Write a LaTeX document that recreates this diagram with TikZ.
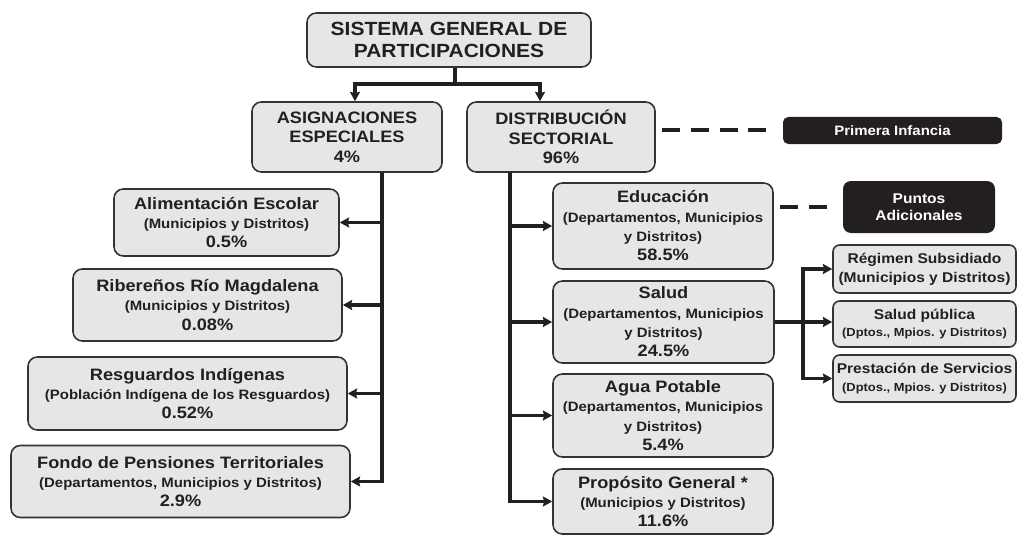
\documentclass[tikz,border=0pt]{standalone}
\usepackage{fontspec}
\setmainfont{Liberation Sans}[FakeStretch=1.1]
\usetikzlibrary{arrows.meta}

\definecolor{boxgray}{HTML}{E6E6E8}
\definecolor{linegray}{HTML}{333333}
\definecolor{inkblack}{HTML}{231F20}

\newcommand{\boxhead}{\fontsize{12.4}{14.5}\selectfont}
\newcommand{\boxsub}{\fontsize{10.2}{14.5}\selectfont}
\newcommand{\boxsmall}{\fontsize{8.8}{11}\selectfont}

\begin{document}
\begin{tikzpicture}[x=0.75pt,y=-0.75pt,>={Stealth[length=7pt,width=7.5pt,inset=1pt]},
  box/.style={draw=linegray, fill=boxgray, line width=1.2pt, rounded corners=7pt,
    align=center, inner sep=0pt, text=inkblack, font=\bfseries\boxhead},
  darkbox/.style={fill=inkblack, rounded corners=4pt, align=center,
    inner sep=0pt, text=white, font=\bfseries\boxsub},
  wh/.style 2 args={minimum width=#1*0.75pt, minimum height=#2*0.75pt},
  arr/.style={->, line width=2.3pt, draw=inkblack},
  link/.style={line width=2.3pt, draw=inkblack},
  dashlink/.style={line width=3pt, draw=inkblack, dash pattern=on 13.5pt off 8pt,
    shorten <=5pt, shorten >=5pt}]
\useasboundingbox (0,0) rectangle (1018,535);

% define the top of the tree
  \node[box, wh={284}{54}, font=\bfseries\fontsize{14.3}{17}\selectfont] (sgp) at (449,40)
{SISTEMA GENERAL DE\\PARTICIPACIONES};
  \node[box, wh={190}{70}] (asig) at (347,137)
{ASIGNACIONES\\ESPECIALES\\4\%};
  \node[box, wh={188}{70}] (dist) at (561,137)
{DISTRIBUCIÓN\\SECTORIAL\\96\%};

% define the special allocations
  \node[box, wh={225}{67}] (alim) at (226.5,222.5)
{Alimentación Escolar\\{\boxsub (Municipios y Distritos)}\\0.5\%};
  \node[box, wh={269}{72}] (rib) at (207.5,305)
{Ribereños Río Magdalena\\{\boxsub (Municipios y Distritos)}\\0.08\%};
  \node[box, wh={319}{73}] (resg) at (187.5,393.5)
{Resguardos Indígenas\\{\boxsub (Población Indígena de los Resguardos)}\\0.52\%};
  \node[box, wh={339}{72}] (fondo) at (180.5,481.5)
{Fondo de Pensiones Territoriales\\{\boxsub (Departamentos, Municipios y Distritos)}\\2.9\%};

% define the sectors
  \node[box, wh={220}{86}] (edu) at (663,226)
{Educación\\{\boxsub (Departamentos, Municipios}\\{\boxsub y Distritos)}\\58.5\%};
  \node[box, wh={221}{82}] (salud) at (663.5,322)
{Salud\\{\boxsub (Departamentos, Municipios}\\{\boxsub y Distritos)}\\24.5\%};
  \node[box, wh={220}{83}] (agua) at (663,415.5)
{Agua Potable\\{\boxsub (Departamentos, Municipios}\\{\boxsub y Distritos)}\\5.4\%};
  \node[box, wh={220}{65}] (prop) at (663,501.5)
{Propósito General *\\{\boxsub (Municipios y Distritos)}\\11.6\%};

% define the health uses
  \node[box, wh={183}{48}, rounded corners=5pt, font=\bfseries\fontsize{10.6}{14}\selectfont] (reg) at (924.5,269)
{Régimen Subsidiado\\(Municipios y Distritos)};
  \node[box, wh={183}{46}, rounded corners=5pt, font=\bfseries\fontsize{10.6}{13}\selectfont] (spub) at (924.5,324)
{Salud pública\\{\boxsmall (Dptos., Mpios. y Distritos)}};
  \node[box, wh={183}{47}, rounded corners=5pt, font=\bfseries\fontsize{10.6}{13}\selectfont] (prest) at (924.5,378.5)
{Prestación de Servicios\\{\boxsmall (Dptos., Mpios. y Distritos)}};

% define the black notes
  \node[darkbox, wh={219}{27}] (infancia) at (892.5,130.5) {Primera Infancia};
  \node[darkbox, wh={152}{52}, rounded corners=6pt, font=\bfseries\fontsize{10.6}{13}\selectfont] (puntos) at (919,207)
{Puntos\\Adicionales};

% define the links
  \coordinate (split) at (455,84);
  \coordinate (jl) at (355,84);
  \coordinate (jr) at (540,84);
  \coordinate (ltrunk) at (382,172);
  \coordinate (rtrunk) at (510,172);
  \coordinate (sjoin) at (803,322);

  \draw[link] (split |- sgp.south) -- (split);
  \draw[arr] (split) -| (jl |- asig.north);
  \draw[arr] (split) -| (jr |- dist.north);

  \draw[arr] (ltrunk) |- (alim.east);
  \draw[arr] (ltrunk) |- (rib.east);
  \draw[arr] (ltrunk) |- (resg.east);
  \draw[arr] (ltrunk) |- (fondo.east);

  \draw[arr] (rtrunk) |- (edu.west);
  \draw[arr] (rtrunk) |- (salud.west);
  \draw[arr] (rtrunk) |- (agua.west);
  \draw[arr] (rtrunk) |- (prop.west);

  \draw[arr] (salud.east) -- (salud.east -| spub.west);
  \draw[arr] (sjoin) |- (reg.west);
  \draw[arr] (sjoin) |- (prest.west);

  \draw[dashlink] (dist.east |- infancia.west) -- (infancia.west);
  \draw[dashlink] (edu.east |- puntos.west) -- (puntos.west);

\end{tikzpicture}
\end{document}
